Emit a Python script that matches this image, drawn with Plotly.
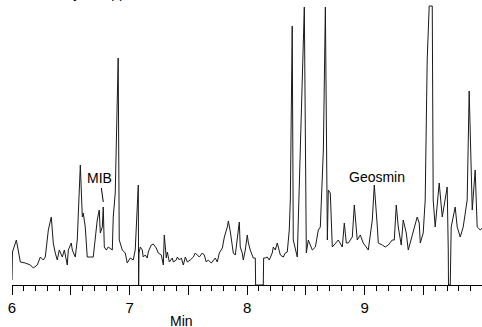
import plotly.graph_objects as go

# Retention time (min) and detector response (arbitrary units)
time_min = [
    6.000, 6.004, 6.037, 6.054, 6.071, 6.113, 6.156, 6.181, 6.215, 6.241, 6.266, 6.283,
    6.309, 6.334, 6.351, 6.368, 6.385, 6.402, 6.428, 6.445, 6.470, 6.479, 6.504, 6.513,
    6.538, 6.555, 6.581, 6.598, 6.606, 6.623, 6.640, 6.666, 6.691, 6.725, 6.742, 6.751,
    6.768, 6.776, 6.785, 6.802, 6.819, 6.853, 6.861, 6.878, 6.903, 6.912, 6.938, 6.963,
    6.980,
    7.006, 7.031, 7.048, 7.065, 7.074, 7.077, 7.080, 7.091, 7.108, 7.116,
    7.133, 7.150, 7.159, 7.184, 7.201, 7.227, 7.244, 7.270, 7.287, 7.295,
    7.312, 7.321, 7.338, 7.363, 7.372, 7.397, 7.406, 7.423, 7.440, 7.457,
    7.474, 7.491, 7.516, 7.542, 7.559, 7.576, 7.593, 7.618, 7.635, 7.652,
    7.669, 7.695, 7.712, 7.729, 7.746, 7.763, 7.789, 7.806, 7.831, 7.840,
    7.857, 7.874, 7.882, 7.899, 7.916, 7.933, 7.941, 7.958, 7.967, 7.984,
    8.001, 8.009, 8.026, 8.043, 8.052, 8.069, 8.072, 8.137, 8.140, 8.154,
    8.171, 8.188, 8.213, 8.222, 8.239, 8.256, 8.265, 8.282, 8.307, 8.324,
    8.341, 8.358, 8.367,
    8.383, 8.392, 8.426, 8.486, 8.503, 8.520, 8.554, 8.580, 8.605, 8.622, 8.648, 8.665,
    8.682, 8.690, 8.707, 8.724, 8.749, 8.775, 8.809, 8.826, 8.843, 8.860, 8.894, 8.911,
    8.936, 8.962, 8.987, 9.013, 9.030, 9.064, 9.081, 9.107, 9.115, 9.149, 9.174, 9.200,
    9.234, 9.251, 9.268, 9.285, 9.310, 9.327, 9.353, 9.370, 9.395, 9.412, 9.446, 9.463,
    9.472, 9.497, 9.514, 9.531, 9.548, 9.574, 9.582, 9.599, 9.616, 9.633, 9.659, 9.676,
    9.701, 9.710, 9.712, 9.727, 9.735, 9.769, 9.786, 9.812, 9.837, 9.871, 9.888, 9.914,
    9.939, 9.956, 9.982, 9.999,
]
response = [
    5, 33, 45, 35, 23, 22, 20, 17, 20, 28, 25, 28,
    55, 68, 42, 32, 25, 35, 28, 35, 20, 35, 42, 35,
    28, 45, 120, 68, 72, 58, 28, 28, 28, 65, 75, 52,
    58, 78, 38, 35, 38, 35, 68, 92, 227, 45, 35, 32,
    22,
    27, 25, 35, 85, 100, 0, 32, 38, 35, 28,
    30, 27, 33, 40, 41, 37, 32, 30, 20, 50,
    27, 33, 23, 27, 23, 25, 28, 25, 27, 20,
    28, 23, 25, 28, 32, 30, 28, 32, 30, 23,
    25, 22, 25, 27, 23, 32, 37, 48, 58, 64,
    53, 35, 32, 30, 45, 63, 38, 32, 25, 35,
    50, 43, 35, 28, 27, 27, 0, 0, 27, 27,
    28, 25, 32, 38, 35, 42, 38, 30, 28, 32,
    33, 55, 85,
    259, 45, 28, 278, 32, 45, 35, 38, 55, 58, 135, 278,
    45, 95, 92, 38, 42, 45, 38, 62, 42, 42, 48, 80,
    45, 50, 42, 38, 35, 65, 100, 58, 42, 40, 38, 40,
    45, 45, 80, 58, 40, 65, 52, 35, 45, 52, 68, 62,
    42, 52, 85, 225, 279, 279, 85, 58, 82, 102, 68, 82,
    98, 35, 0, 0, 58, 78, 58, 48, 58, 85, 194, 75,
    115, 58, 55, 57,
]

tick_vals = [6, 6.5, 7, 7.5, 8, 8.5, 9, 9.5]
tick_text = ["6", "", "7", "", "8", "", "9", ""]

peak_labels = ["MIB", "Geosmin"]
peak_label_time = [6.743, 9.106]
peak_label_level = [107, 108]

FONT = "Liberation Sans, Arial, sans-serif"

fig = go.Figure()
fig.add_trace(go.Scatter(
    x=time_min, y=response, mode="lines",
    line=dict(color="#1a1a1a", width=1),
    hoverinfo="skip", showlegend=False,
))

for name, t, lvl in zip(peak_labels, peak_label_time, peak_label_level):
    fig.add_annotation(x=t, y=lvl, xref="x", yref="y", text=name, showarrow=False,
                       font=dict(family=FONT, size=14, color="black"))

# leader line from MIB label to its peak
fig.add_shape(type="line", xref="x", yref="y", x0=6.760, y0=97, x1=6.776, y1=83,
              line=dict(color="black", width=1))

fig.add_annotation(x=7.443, y=-0.126, xref="x", yref="paper", text="Min", showarrow=False,
                   yanchor="middle", font=dict(family=FONT, size=14, color="black"))

# caption clipped by the top edge (only descenders visible)
fig.add_annotation(x=14 / 470, y=0.99, xref="paper", yref="paper",
                   text="Intensity at 5 ppt each, SIM",
                   showarrow=False, xanchor="left", yanchor="bottom",
                   font=dict(family=FONT, size=14, color="black"))

fig.update_layout(
    width=482, height=327,
    margin=dict(l=12, r=0, t=0, b=42),
    paper_bgcolor="white", plot_bgcolor="white",
    xaxis=dict(
        range=[6, 9.997], showgrid=False, zeroline=False,
        showline=True, linecolor="black", linewidth=1,
        ticks="outside", ticklen=9, tickwidth=1, tickcolor="black",
        tickvals=tick_vals, ticktext=tick_text,
        tickfont=dict(family=FONT, size=15, color="black"),
        minor=dict(dtick=0.1, tick0=6, ticks="outside", ticklen=5, tickwidth=1, tickcolor="black"),
    ),
    yaxis=dict(range=[0, 285], visible=False, fixedrange=True),
)

fig.write_html("out.html", config={"displayModeBar": False},
               post_script="document.body.style.margin='0';")
